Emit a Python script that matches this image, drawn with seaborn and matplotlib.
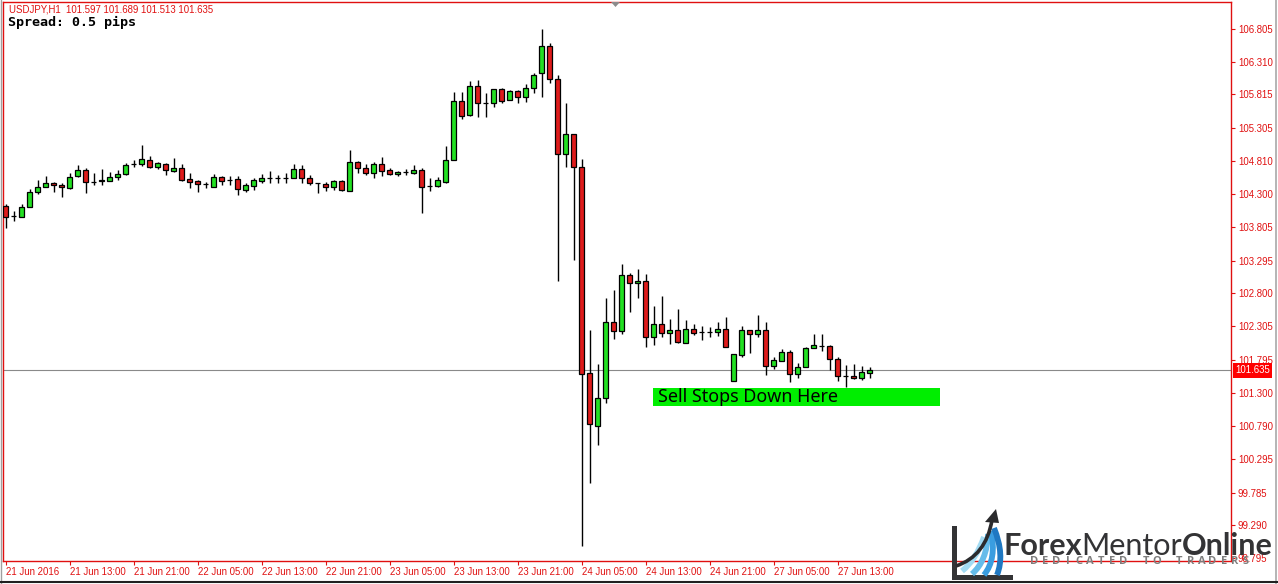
import numpy as np
import pandas as pd
import matplotlib.pyplot as plt
import seaborn as sns
from matplotlib.patches import Rectangle, Polygon, PathPatch
from matplotlib.path import Path
from matplotlib.lines import Line2D

# ---------------------------------------------
# USDJPY H1 candles (21 Jun 05:00 -> 27 Jun 13:00+)
# ---------------------------------------------
opens = [104.125, 103.973, 103.962, 104.110, 104.337, 104.412, 104.473, 104.443, 104.397, 104.579,
         104.670, 104.488, 104.500, 104.503, 104.564, 104.609, 104.760, 104.760, 104.821, 104.715,
         104.760, 104.655, 104.700, 104.533, 104.503, 104.458, 104.412, 104.564, 104.518, 104.533,
         104.367, 104.427, 104.503, 104.548, 104.548, 104.548, 104.548, 104.685, 104.548, 104.473,
         104.458, 104.412, 104.503, 104.352, 104.791, 104.700, 104.624, 104.760, 104.670, 104.609,
         104.639, 104.624, 104.670, 104.427, 104.427, 104.488, 104.817, 105.715, 105.503, 105.942,
         105.680, 105.685, 105.896, 105.725, 105.866, 105.771, 105.907, 106.134, 106.547, 106.043,
         104.908, 105.211, 104.711, 101.592, 100.794, 101.213, 102.364, 102.227, 103.075, 102.954,
         102.984, 102.136, 102.338, 102.197, 102.247, 102.055, 102.258, 102.222, 102.222, 102.222,
         102.258, 101.480, 101.868, 102.247, 102.182, 102.247, 101.706, 101.782, 101.909, 101.577,
         101.692, 101.970, 102.005, 101.999, 101.803, 101.551, 101.551, 101.515, 101.597]
highs = [104.155, 104.049, 104.155, 104.382, 104.518, 104.579, 104.488, 104.473, 104.624, 104.745,
         104.700, 104.624, 104.685, 104.639, 104.670, 104.776, 104.821, 105.049, 104.882, 104.791,
         104.776, 104.851, 104.760, 104.624, 104.518, 104.488, 104.609, 104.579, 104.579, 104.579,
         104.473, 104.548, 104.609, 104.655, 104.594, 104.624, 104.760, 104.745, 104.594, 104.478,
         104.488, 104.518, 104.518, 104.973, 104.806, 104.760, 104.791, 104.866, 104.700, 104.655,
         104.685, 104.745, 104.700, 104.548, 104.564, 105.033, 105.856, 105.856, 106.018, 106.033,
         105.841, 105.896, 105.911, 105.876, 105.881, 105.972, 106.143, 106.800, 106.597, 106.108,
         105.689, 105.215, 104.832, 102.247, 101.733, 102.727, 102.848, 103.247, 103.106, 103.166,
         103.095, 102.610, 102.762, 102.414, 102.560, 102.399, 102.338, 102.308, 102.288, 102.373,
         102.440, 101.879, 102.308, 102.250, 102.474, 102.373, 101.834, 101.955, 101.944, 101.743,
         101.995, 102.182, 102.187, 102.020, 101.843, 101.717, 101.733, 101.702, 101.689]
lows = [103.792, 103.898, 103.958, 104.110, 104.306, 104.412, 104.337, 104.261, 104.382, 104.564,
        104.321, 104.443, 104.443, 104.503, 104.518, 104.594, 104.715, 104.730, 104.700, 104.685,
        104.594, 104.639, 104.503, 104.397, 104.337, 104.397, 104.412, 104.443, 104.443, 104.291,
        104.337, 104.367, 104.473, 104.473, 104.473, 104.473, 104.548, 104.473, 104.443, 104.321,
        104.352, 104.367, 104.352, 104.352, 104.624, 104.594, 104.548, 104.579, 104.594, 104.579,
        104.594, 104.609, 104.019, 104.352, 104.412, 104.473, 104.817, 105.442, 105.493, 105.478,
        105.478, 105.629, 105.689, 105.725, 105.689, 105.704, 105.841, 105.780, 105.983, 102.993,
        104.711, 103.307, 98.976, 99.926, 100.501, 101.146, 102.115, 102.182, 102.524, 102.735,
        101.994, 102.020, 102.137, 102.035, 102.045, 102.045, 102.171, 102.096, 102.147, 102.156,
        101.994, 101.480, 101.843, 101.903, 102.147, 101.566, 101.652, 101.782, 101.465, 101.515,
        101.692, 101.970, 101.929, 101.642, 101.479, 101.389, 101.500, 101.490, 101.513]
closes = [103.958, 103.970, 104.115, 104.337, 104.412, 104.473, 104.443, 104.412, 104.564, 104.670,
          104.488, 104.485, 104.515, 104.564, 104.609, 104.745, 104.762, 104.836, 104.715, 104.776,
          104.670, 104.700, 104.518, 104.488, 104.458, 104.455, 104.564, 104.503, 104.515, 104.382,
          104.443, 104.518, 104.548, 104.545, 104.550, 104.552, 104.685, 104.548, 104.473, 104.470,
          104.412, 104.503, 104.367, 104.791, 104.700, 104.624, 104.760, 104.655, 104.609, 104.639,
          104.642, 104.670, 104.412, 104.425, 104.518, 104.821, 105.715, 105.493, 105.942, 105.685,
          105.678, 105.896, 105.719, 105.866, 105.771, 105.907, 106.108, 106.547, 106.043, 104.908,
          105.211, 104.711, 101.581, 100.824, 101.213, 102.364, 102.227, 103.075, 102.954, 102.984,
          102.136, 102.333, 102.206, 102.247, 102.070, 102.258, 102.206, 102.220, 102.224, 102.258,
          101.994, 101.879, 102.247, 102.182, 102.247, 101.706, 101.793, 101.909, 101.577, 101.692,
          101.970, 102.016, 102.003, 101.803, 101.555, 101.548, 101.515, 101.606, 101.635]

x_tick_labels = ["21 Jun 2016", "21 Jun 13:00", "21 Jun 21:00", "22 Jun 05:00", "22 Jun 13:00",
                 "22 Jun 21:00", "23 Jun 05:00", "23 Jun 13:00", "23 Jun 21:00", "24 Jun 05:00",
                 "24 Jun 13:00", "24 Jun 21:00", "27 Jun 05:00", "27 Jun 13:00"]
y_tick_values = [106.805, 106.310, 105.815, 105.305, 104.810, 104.300, 103.805, 103.295, 102.800,
                 102.305, 101.795, 101.300, 100.790, 100.295, 99.785, 99.290, 98.795]
last_price = 101.635
header = "USDJPY,H1  101.597 101.689 101.513 101.635"

# ---------------------------------------------
# setup
# ---------------------------------------------
W, H = 1278, 584
def fx(px): return px / W
def fy(py): return 1 - py / H

sns.set_theme(style="white")
plt.rcParams['font.family'] = ['Liberation Sans', 'DejaVu Sans']

df = pd.DataFrame({'open': opens, 'high': highs, 'low': lows, 'close': closes})
df['bar'] = np.arange(1, len(df) + 1)
df['bull'] = df['close'] >= df['open']

BULL, BEAR, FRAME = '#22e022', '#de1b1b', '#e01010'

fig = plt.figure(figsize=(W / 100, H / 100), dpi=100)
ax = fig.add_axes([fx(3), fy(561), (1231 - 3) / W, (561 - 2) / H])
ax.set_facecolor('white')

# wicks + bodies
ax.vlines(df['bar'], df['low'], df['high'], color='black', lw=1, zorder=2)
body_low = df[['open', 'close']].min(axis=1)
body_h = (df['close'] - df['open']).abs()
ax.bar(df['bar'], body_h, bottom=body_low, width=0.6,
       color=np.where(df['bull'], BULL, BEAR), edgecolor='black', linewidth=0.9, zorder=3)

# current price line + label
ax.axhline(last_price, color='#8a8a8a', lw=0.8, zorder=1)
ax.annotate(f"{last_price:.3f}", xy=(1, last_price), xycoords=('axes fraction', 'data'),
            xytext=(3.2, 0), textcoords='offset points', va='center', ha='left',
            fontsize=6.9, color='white', annotation_clip=False,
            bbox=dict(boxstyle='square,pad=0.22', fc='#ff0000', ec='none'))

ax.set_xlim(0.66, 154.16)
ax.set_ylim(98.749, 107.214)

# axes / ticks
ax.yaxis.tick_right()
ax.set_yticks(y_tick_values)
ax.set_yticklabels([f"{v:.3f}" for v in y_tick_values])
ax.set_xticks(df['bar'].iloc[::8])
ax.set_xticklabels(x_tick_labels)
for lab in ax.get_xticklabels():
    lab.set_ha('left')
ax.tick_params(axis='y', direction='out', length=3, width=0.8, colors=FRAME,
               labelsize=6.9, pad=2, right=True, left=False)
ax.tick_params(axis='x', direction='out', length=3, width=0.8, colors=FRAME,
               labelsize=6.9, pad=1, bottom=True)
for sp in ax.spines.values():
    sp.set_color(FRAME)
    sp.set_linewidth(1)
ax.grid(False)

# header texts
fig.text(fx(9), fy(10), header, color=FRAME, fontsize=6.9, va='center', ha='left')
fig.text(fx(8), fy(22), "Spread: 0.5 pips", color='black', fontsize=9.6, fontweight='bold',
         family='DejaVu Sans Mono', va='center', ha='left')

# shift marker at top
fig.add_artist(Polygon([(fx(611), fy(2)), (fx(620), fy(2)), (fx(615.5), fy(7))],
                       closed=True, fc='#8c8c8c', ec='none', transform=fig.transFigure))

# sell stops note
fig.add_artist(Rectangle((fx(653), fy(406)), 287 / W, 18 / H, fc='#00ee00', ec='none',
                         transform=fig.transFigure, zorder=5))
fig.text(fx(658), fy(397.5), "Sell Stops Down Here", fontsize=12.9, family=['Noto Sans', 'DejaVu Sans'],
         color='black', va='center', ha='left', zorder=6)

# screenshot frame
fig.add_artist(Line2D([fx(0.5)] * 2, [0, 1], color='#a0a0a0', lw=1, transform=fig.transFigure))
fig.add_artist(Line2D([fx(1275.5)] * 2, [0, 1], color='#a8a8a8', lw=1.2, transform=fig.transFigure))
fig.add_artist(Line2D([0, 1], [fy(581.5)] * 2, color='#202020', lw=1.5, transform=fig.transFigure))

# ---------------------------------------------
# logo (bottom right)
# ---------------------------------------------
def curve(p0, p1, p2, color, lw):
    verts = [(fx(p0[0]), fy(p0[1])), (fx(p1[0]), fy(p1[1])), (fx(p2[0]), fy(p2[1]))]
    path = Path(verts, [Path.MOVETO, Path.CURVE3, Path.CURVE3])
    fig.add_artist(PathPatch(path, fc='none', ec=color, lw=lw, capstyle='butt',
                             transform=fig.transFigure, zorder=7))

fig.add_artist(Rectangle((fx(952), fy(580)), 5 / W, 54 / H, fc='#333335', ec='none',
                         transform=fig.transFigure, zorder=7))
fig.add_artist(Rectangle((fx(952), fy(580)), 61 / W, 5 / H, fc='#333335', ec='none',
                         transform=fig.transFigure, zorder=7))
curve((962, 571), (976, 560), (984, 537), '#a3dbf3', 4.2)
curve((972, 574), (987, 561), (988, 534), '#66bcea', 4.2)
curve((984, 575), (997, 559), (991, 531), '#3a9de0', 4.2)
curve((997, 575), (1005, 555), (994, 528), '#1f78c2', 4.2)
curve((956, 566), (986, 556), (992, 520), '#2b2b2d', 2.6)
fig.add_artist(Polygon([(fx(996), fy(509)), (fx(985), fy(522)), (fx(999), fy(523))], closed=True,
                       fc='#2b2b2d', ec='none', transform=fig.transFigure, zorder=7))

r = fig.canvas.get_renderer()
parts = [("Forex", 'bold'), ("Mentor", 'normal'), ("Online", 'bold')]
logo_font = ['Lato', 'DejaVu Sans']
total = 0
for s, w in parts:
    t = fig.text(0, 0, s, fontsize=20, fontweight=w, family=logo_font)
    total += t.get_window_extent(renderer=r).width
    t.remove()
fs = 20 * 270 / total
x0 = 1003
for s, w in parts:
    t = fig.text(fx(x0), fy(555), s, fontsize=fs, fontweight=w, family=logo_font,
                 color='#333335', va='baseline', ha='left', zorder=8)
    x0 += t.get_window_extent(renderer=r).width

tag = "DEDICATED TO TRADERS"
for k, ch in enumerate(tag):
    fig.text(fx(1034 + k * 11.16), fy(562), ch, fontsize=8.0, fontweight='bold',
             family=['Open Sans', 'DejaVu Sans'], color='#7d7d7d', va='center', ha='center', zorder=8)

fig.savefig("out.png", dpi=100)
